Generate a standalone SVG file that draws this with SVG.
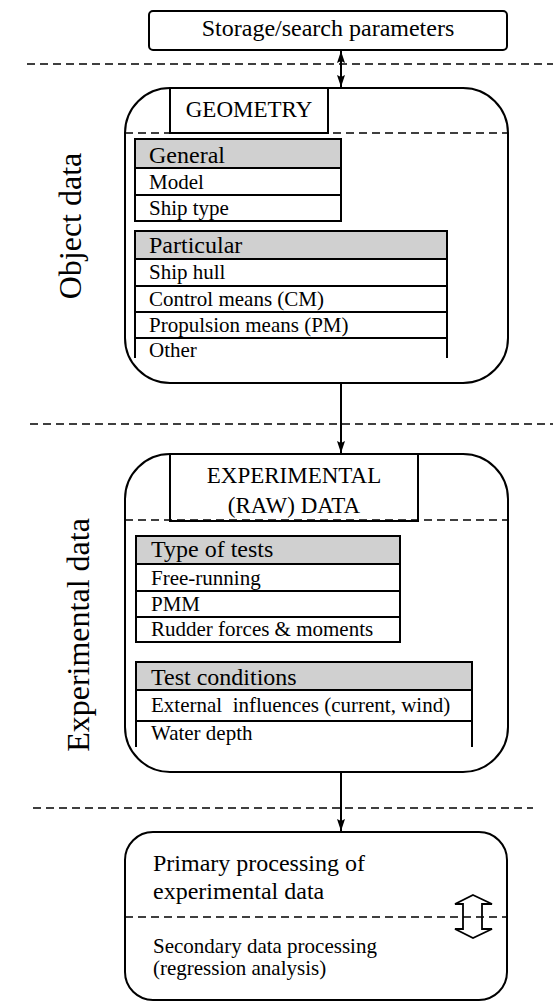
<svg xmlns="http://www.w3.org/2000/svg" width="553" height="1001" viewBox="0 0 553 1001" font-family="'Liberation Serif', 'Times New Roman', 'DejaVu Serif', serif">
<defs>
<style>
text{font-family:'Liberation Serif','Times New Roman','DejaVu Serif',serif;fill:#000}
.box{fill:#fff;stroke:#000;stroke-width:2}
.ln{stroke:#000;stroke-width:2;fill:none}
.dash{stroke:#000;stroke-width:1.6;stroke-dasharray:8,5;fill:none}
.hdr{fill:#d0d0d0;stroke:none}
.t24{font-size:24px}
.t23{font-size:23px}
.t21{font-size:21px}
.t32{font-size:32px}
.c{text-anchor:middle}
</style>
<marker id="ah" viewBox="0 0 12 8" refX="12" refY="4" markerWidth="12" markerHeight="8" markerUnits="userSpaceOnUse" orient="auto-start-reverse">
<path d="M0,0 L12,4 L0,8 L2,4 z" fill="#000"/>
</marker>
</defs>

<g id="separators">
<line class="dash" x1="27" y1="64" x2="553" y2="64"/>
<line class="dash" x1="30" y1="424" x2="553" y2="424"/>
<line class="dash" x1="33" y1="808" x2="533" y2="808"/>
</g>

<g id="lane-labels">
<text class="t32 c" transform="translate(81,226) rotate(-90)">Object data</text>
<text class="t32 c" transform="translate(89,635) rotate(-90)">Experimental data</text>
</g>

<g id="storage">
<rect class="box" x="149" y="11" width="358" height="39" rx="4"/>
<text class="t24 c" x="328" y="36">Storage/search parameters</text>
</g>

<g id="geometry">
<rect class="box" x="125" y="88" width="383" height="295" rx="45"/>
<line class="dash" x1="125" y1="133" x2="508" y2="133"/>
<rect class="box" x="170" y="88" width="158" height="45"/>
<text class="t23 c" x="249" y="117">GEOMETRY</text>
<g id="general-table">
<rect class="hdr" x="135" y="139" width="206" height="29"/>
<rect class="ln" x="135" y="139" width="206" height="82"/>
<line class="ln" x1="135" y1="168" x2="341" y2="168"/>
<line class="ln" x1="135" y1="195" x2="341" y2="195"/>
<text class="t24" x="149" y="163">General</text>
<text class="t21" x="149" y="189">Model</text>
<text class="t21" x="149" y="215">Ship type</text>
</g>
<g id="particular-table">
<rect class="hdr" x="135" y="231" width="312" height="28"/>
<path class="ln" d="M135,358 V231 H447 V358 M135,259 H447 M135,286 H447 M135,312 H447 M135,338 H447"/>
<text class="t24" x="149" y="253">Particular</text>
<text class="t21" x="149" y="279">Ship hull</text>
<text class="t21" x="149" y="306">Control means (CM)</text>
<text class="t21" x="149" y="332">Propulsion means (PM)</text>
<text class="t21" x="149" y="357">Other</text>
</g>
</g>

<g id="experimental">
<rect class="box" x="125" y="454" width="383" height="318" rx="45"/>
<rect class="box" x="170" y="454" width="248" height="67"/>
<line class="dash" x1="125" y1="520" x2="508" y2="520"/>
<text class="t23 c" x="294" y="483">EXPERIMENTAL</text>
<text class="t23 c" x="294" y="513">(RAW) DATA</text>
<g id="tests-table">
<rect class="hdr" x="136" y="536" width="264" height="28"/>
<rect class="ln" x="136" y="536" width="264" height="106"/>
<line class="ln" x1="136" y1="564" x2="400" y2="564"/>
<line class="ln" x1="136" y1="591" x2="400" y2="591"/>
<line class="ln" x1="136" y1="617" x2="400" y2="617"/>
<text class="t24" x="151" y="557">Type of tests</text>
<text class="t21" x="151" y="585">Free-running</text>
<text class="t21" x="151" y="611">PMM</text>
<text class="t21" x="151" y="636">Rudder forces &amp; moments</text>
</g>
<g id="conditions-table">
<rect class="hdr" x="136" y="662" width="336" height="28"/>
<path class="ln" d="M136,747 V662 H472 V747 M136,690 H472 M136,721 H472"/>
<text class="t24" x="151" y="685">Test conditions</text>
<text class="t21" x="151" y="712" xml:space="preserve" style="white-space:pre">External  influences (current, wind)</text>
<text class="t21" x="151" y="740">Water depth</text>
</g>
</g>

<g id="processing">
<rect class="box" x="125" y="832" width="382" height="168" rx="28"/>
<line class="dash" x1="125" y1="917" x2="507" y2="917"/>
<text class="t24" x="153" y="871">Primary processing of</text>
<text class="t24" x="153" y="899">experimental data</text>
<text class="t21" x="153" y="953">Secondary data processing</text>
<text class="t21" x="153" y="975">(regression analysis)</text>
<polygon points="473,895 492,904 482,904 482,929 492,929 473,938 455,929 463,929 463,904 455,904" fill="none" stroke="#000" stroke-width="1.8" stroke-linejoin="miter"/>
</g>

<g id="connectors">
<line class="ln" x1="341" y1="51" x2="341" y2="87" marker-start="url(#ah)" marker-end="url(#ah)"/>
<line class="ln" x1="341" y1="384" x2="341" y2="453" marker-end="url(#ah)"/>
<line class="ln" x1="341" y1="773" x2="341" y2="831" marker-end="url(#ah)"/>
</g>
</svg>
